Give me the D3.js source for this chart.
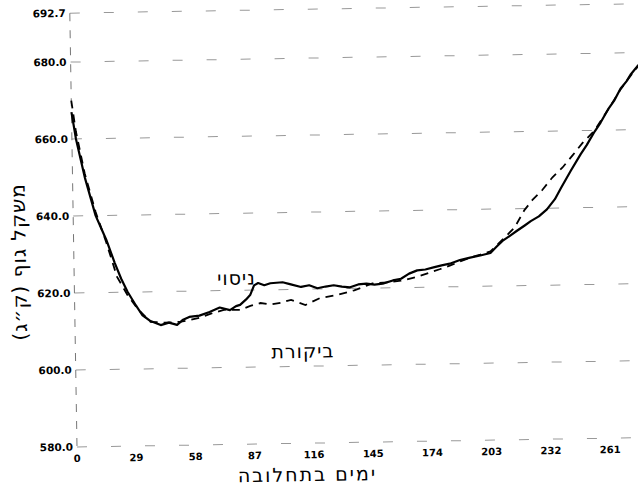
<!DOCTYPE html>
<meta charset="utf-8">
<style>
body { margin: 0; background: #fff; }
</style>
<body>
<script src="https://d3js.org/d3.v7.min.js"></script>
<script>
var width = 638,
    height = 488;

// days / body weight (kg)
var yTicks = [580, 600, 620, 640, 660, 680, 692.7];
var xTicks = [0, 29, 58, 87, 116, 145, 174, 203, 232, 261];

var trialDays = [0, 2, 6, 11, 16, 20, 23, 26, 30, 33, 37, 42, 46, 50, 53, 56, 61, 66, 71, 76, 79, 81, 84, 86, 88, 90, 93, 96,
  102, 106, 111, 115, 119, 123, 127, 131, 135, 139, 143, 147, 151, 156, 160, 164, 168, 172, 176, 180, 184, 189, 194,
  199, 204, 207, 210, 214, 217, 221, 224, 228, 232, 236, 239, 244, 249, 252, 256, 259, 263, 266, 269, 272, 274, 278];
var trialKg = [667, 660, 650, 640, 633.7, 627.6, 623.5, 620.1, 616.5, 614, 612.4, 611.3, 611.9, 611.3, 612.6, 613.3, 613.6, 614.5, 615.6, 614.9, 615.9, 616.2, 617.6, 618.7, 621.2, 621.8, 621.2, 621.7,
  621.9, 621.3, 620.6, 621.0, 620.2, 620.6, 620.9, 620.5, 620.3, 621.0, 621.2, 620.9, 621.1, 621.9, 622.3, 623.6, 624.4, 624.6, 625.1, 625.6, 626.0, 626.9, 627.5,
  628.0, 628.6, 630.2, 631.7, 633.1, 634.2, 635.6, 636.7, 637.9, 639.7, 642.3, 645.1, 649.6, 653.9, 656.2, 659.7, 662.0, 665.6, 667.8, 670.7, 672.6, 674.3, 676.8];

var controlDays = [0, 2, 6, 11, 16, 21, 26, 31, 37, 44, 52, 61, 67, 73, 81, 86, 91, 96, 101, 106, 113, 120, 129, 137, 146, 153, 160, 167, 173, 179, 184, 189, 194,
  199, 204, 210, 216, 221, 225, 230, 235, 240, 245, 250, 256, 263, 269, 274, 278];
var controlKg = [670, 662, 651, 641, 633, 624, 619.2, 615.5, 612.2, 611.9, 612.1, 613.0, 614.1, 615.0, 614.9, 615.9, 616.6, 616.2, 616.6, 617.3, 615.9, 617.6, 618.4, 619.5, 621.2, 621.4, 621.8, 622.6, 623.6, 624.6, 625.5, 626.5, 627.5,
  628.2, 629.0, 632.0, 635.1, 639.6, 642.2, 644.8, 648.0, 650.5, 653.6, 656.8, 660.0, 665.5, 670.5, 674.0, 676.6];

var seriesNames = ["ניסוי", "ביקורת"];
var labelDays = [79.5, 111.4];
var labelKg = [623.2, 603.9];

var xTitle = "ימים בתחלובה";
var yTitle = "משקל גוף (ק״ג)";

var x = d3.scaleLinear().domain([0, 261]).range([77, 610]);
var y = d3.scaleLinear().domain([580, 692.7]).range([447, 13.1]);

var svg = d3.select("body").append("svg")
    .attr("width", width)
    .attr("height", height);

// the page was scanned a little crooked
var g = svg.append("g")
    .attr("transform", "rotate(-0.95," + x(0) + "," + y(580) + ")");

g.selectAll(".grid")
  .data(yTicks)
  .enter().append("line")
    .attr("class", "grid")
    .attr("x1", x(0))
    .attr("x2", x(285))
    .attr("y1", function(d) { return y(d); })
    .attr("y2", function(d) { return y(d); })
    .attr("stroke", "#999")
    .attr("stroke-width", 1)
    .attr("stroke-dasharray", "10,24");

g.append("line")
    .attr("x1", x(0)).attr("x2", x(0))
    .attr("y1", y(692.7)).attr("y2", y(580))
    .attr("stroke", "#777")
    .attr("stroke-width", 1)
    .attr("stroke-dasharray", "8,9");

g.selectAll(".ylab")
  .data(yTicks)
  .enter().append("text")
    .attr("class", "ylab")
    .attr("x", x(0) - 4)
    .attr("y", function(d) { return y(d); })
    .attr("dy", "0.35em")
    .attr("text-anchor", "end")
    .style("font", "bold 10.5px 'DejaVu Sans'")
    .text(function(d) { return d3.format(".1f")(d); });

g.selectAll(".xlab")
  .data(xTicks)
  .enter().append("text")
    .attr("class", "xlab")
    .attr("x", function(d) { return x(d); })
    .attr("y", 462)
    .attr("text-anchor", "middle")
    .style("font", "bold 10px 'DejaVu Sans'")
    .text(function(d) { return d; });

var line = d3.line()
    .x(function(d) { return x(d[0]); })
    .y(function(d) { return y(d[1]); });

g.append("path")
    .datum(d3.zip(controlDays, controlKg))
    .attr("d", line)
    .attr("fill", "none")
    .attr("stroke", "#000")
    .attr("stroke-width", 1.8)
    .attr("stroke-dasharray", "8,6");

g.append("path")
    .datum(d3.zip(trialDays, trialKg))
    .attr("d", line)
    .attr("fill", "none")
    .attr("stroke", "#000")
    .attr("stroke-width", 2.2)
    .attr("stroke-linejoin", "round");

g.selectAll(".slab")
  .data(seriesNames)
  .enter().append("text")
    .attr("class", "slab")
    .attr("x", function(d, i) { return x(labelDays[i]); })
    .attr("y", function(d, i) { return y(labelKg[i]); })
    .attr("dy", "0.35em")
    .attr("text-anchor", "middle")
    .style("font", "19px 'DejaVu Sans'")
    .style("letter-spacing", "1px")
    .text(function(d) { return d; });

g.append("text")
    .attr("x", 307)
    .attr("y", 485)
    .attr("text-anchor", "middle")
    .style("font", "19px 'DejaVu Sans'")
    .style("letter-spacing", "2px")
    .text(xTitle);

g.append("text")
    .attr("transform", "translate(22,261) rotate(-90)")
    .attr("dy", "0.35em")
    .attr("text-anchor", "middle")
    .style("font", "20px 'DejaVu Sans'")
    .style("letter-spacing", "1px")
    .text(yTitle);
</script>
</body>
